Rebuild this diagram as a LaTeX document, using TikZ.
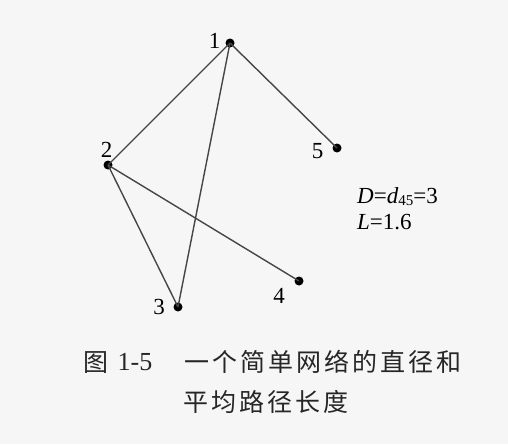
\documentclass[tikz,border=0pt]{standalone}
\usepackage{fontspec}
\setmainfont{Liberation Serif}
\newfontfamily\cjk{Noto Sans CJK SC}
\definecolor{bgc}{RGB}{246,246,246}
\definecolor{edgec}{RGB}{70,70,70}
\begin{document}
\begin{tikzpicture}[x=1pt,y=-1pt,
  vtx/.style={circle,fill=black,inner sep=0pt,minimum size=9pt},
  edge/.style={draw=edgec,line width=1.4pt},
  lbl/.style={font=\fontsize{23}{23}\selectfont,inner sep=0pt},
  mtxt/.style={font=\fontsize{23}{23}\selectfont,inner sep=0pt,anchor=base west},
  captxt/.style={font=\cjk\fontsize{25}{25}\selectfont,inner sep=0pt,anchor=base,text=black!85},
  capnum/.style={font=\fontsize{26}{26}\selectfont,inner sep=0pt,anchor=base,text=black!85}]
\fill[bgc] (0,0) rectangle (508,444);
\useasboundingbox (0,0) rectangle (508,444);
\node[vtx] (n1) at (230,43) {};
\node[vtx] (n2) at (108,165) {};
\node[vtx] (n3) at (178,307) {};
\node[vtx] (n4) at (299,281) {};
\node[vtx] (n5) at (337,148) {};
\draw[edge] (n1.center) -- (n2.center);
\draw[edge] (n1.center) -- (n3.center);
\draw[edge] (n1.center) -- (n5.center);
\draw[edge] (n2.center) -- (n3.center);
\draw[edge] (n2.center) -- (n4.center);
\node[lbl] (l1) at (214.5,40.5) {1};
\node[lbl] (l2) at (106.5,149.5) {2};
\node[lbl] (l3) at (159,307) {3};
\node[lbl] (l4) at (279,295.5) {4};
\node[lbl] (l5) at (317.5,151) {5};
\node[mtxt] (dtxt) at (357,203) {\textit{D}=\textit{d}\raisebox{-2pt}{\fontsize{15}{15}\selectfont 45}=3};
\node[mtxt] (ltxt) at (357,229) {\textit{L}=1.6};
\node[captxt] (c0) at (96,371) {图};
\node[capnum] (c05) at (135,370) {1-5};
\foreach \ch [count=\i from 0] in {一,个,简,单,网,络,的,直,径,和}
  \node[captxt] (ca\i) at (197+28*\i,371) {\ch};
\foreach \ch [count=\i from 0] in {平,均,路,径,长,度}
  \node[captxt] (cb\i) at (196+28*\i,411) {\ch};
\end{tikzpicture}
\end{document}
